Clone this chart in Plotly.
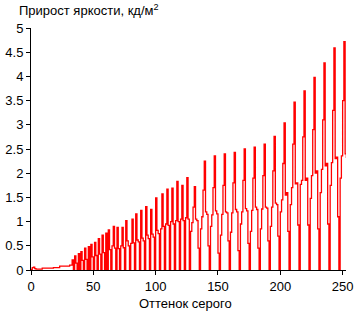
import plotly.graph_objects as go

# Brightness increment per gray level (cd/m2)
gray = list(range(256))
increment = [
    # 0-33
    0.01, 0.05, 0.06, 0.03, 0.02, 0.02, 0.02, 0.02, 0.02, 0.04,
    0.04, 0.04, 0.04, 0.04, 0.04, 0.04, 0.04, 0.04, 0.05, 0.05,
    0.05, 0.05, 0.05, 0.08, 0.08, 0.08, 0.08, 0.08, 0.08, 0.08,
    0.08, 0.10, 0.10, 0.21,
    # 34-63
    0.0, 0.29, 0.14, 0.0, 0.34, 0.0, 0.38, 0.20, 0.0, 0.45,
    0.22, 0.0, 0.48, 0.0, 0.53, 0.27, 0.0, 0.57, 0.30, 0.0,
    0.65, 0.33, 0.0, 0.72, 0.36, 0.0, 0.76, 0.0, 0.83, 0.42,
    # 64-95
    0.0, 0.50, 0.90, 0.45, 0.0, 0.88, 0.44, 0.0, 0.50, 0.88,
    0.46, 0.0, 1.02, 0.60, 0.50, 0.0, 0.55, 1.05, 0.56, 0.0,
    1.16, 0.62, 0.58, 0.0, 1.23, 0.66, 0.60, 0.0, 1.31, 0.72,
    0.65, 0.0,
    # 96-126
    1.25, 0.74, 0.68, 0.0, 1.49, 0.82, 0.75, 0.0, 0.85, 1.57,
    0.90, 0.0, 0.95, 1.67, 0.92, 0.0, 1.00, 1.69, 0.95, 0.0,
    1.02, 1.83, 1.00, 0.0, 1.05, 1.75, 1.02, 0.0, 1.08, 1.91,
    1.05,
    # 127-158
    0.0, 0.80, 0.98, 1.30, 1.72, 1.05, 1.02, 0.45,
    0.0, 0.85, 1.10, 1.65, 2.25, 1.20, 1.15, 0.50,
    0.0, 0.90, 1.14, 1.70, 2.36, 1.22, 1.16, 0.35,
    0.0, 0.72, 1.15, 1.75, 2.40, 1.20, 1.18, 0.60,
    # 159-190
    0.0, 0.78, 1.18, 1.80, 2.43, 1.25, 1.20, 0.40,
    0.0, 0.95, 1.20, 1.85, 2.50, 1.27, 1.22, 0.55,
    0.0, 0.80, 1.23, 1.90, 2.54, 1.30, 1.25, 0.45,
    0.0, 0.85, 1.26, 1.95, 2.60, 1.30, 1.28, 0.60,
    # 191-222
    0.0, 0.90, 1.30, 2.05, 2.76, 1.38, 1.35, 0.70,
    0.0, 1.20, 1.45, 2.20, 3.04, 1.55, 1.60, 0.80,
    0.0, 1.35, 1.70, 2.60, 3.47, 1.78, 1.80, 0.93,
    0.0, 1.77, 1.85, 2.75, 3.70, 1.85, 1.90, 0.93,
    # 223-255
    0.0, 1.48, 1.95, 2.90, 3.98, 2.00, 2.05, 0.85,
    0.0, 1.60, 2.08, 3.10, 4.28, 2.15, 2.20, 0.95,
    0.0, 1.75, 2.22, 3.30, 4.59, 2.30, 2.33, 1.10,
    0.0, 1.90, 2.36, 3.50, 4.72, 2.40, 2.33, 2.38, 2.35,
]

x_ticks = [0, 50, 100, 150, 200, 250]
y_ticks = [0, 0.5, 1, 1.5, 2, 2.5, 3, 3.5, 4, 4.5, 5]
y_title = "Прирост яркости, кд/м<sup>2</sup>"
x_title = "Оттенок серого"

font = dict(family="Liberation Sans, Arial, sans-serif", size=13, color="black")

fig = go.Figure(go.Scatter(
    x=gray[:len(increment)], y=increment, mode="lines",
    line=dict(color="#ff0000", width=1.3, shape="hv"),
    hoverinfo="skip",
))

fig.update_layout(
    width=358, height=312,
    margin=dict(l=28, r=5, t=28, b=42),
    paper_bgcolor="white", plot_bgcolor="white",
    showlegend=False, font=font,
    xaxis=dict(range=[0, 252.7], tickvals=x_ticks, ticks="outside", ticklen=4,
               tickcolor="black", showline=True, linecolor="black", linewidth=1,
               showgrid=False, zeroline=False, tickfont=font,
               ticklabeloverflow="allow"),
    yaxis=dict(range=[0, 5], tickvals=y_ticks, ticktext=[str(v) for v in y_ticks],
               ticks="outside", ticklen=4, tickcolor="black", showline=True,
               linecolor="black", linewidth=1, showgrid=False, zeroline=False,
               tickfont=font, ticklabeloverflow="allow"),
    annotations=[
        dict(text=y_title, xref="paper", yref="paper", x=-0.046, y=1.075,
             xanchor="left", yanchor="middle", showarrow=False, font=font),
        dict(text=x_title, xref="paper", yref="paper", x=0.49, y=-0.14,
             xanchor="center", yanchor="middle", showarrow=False, font=font),
    ],
)

fig.write_html("out.html")
